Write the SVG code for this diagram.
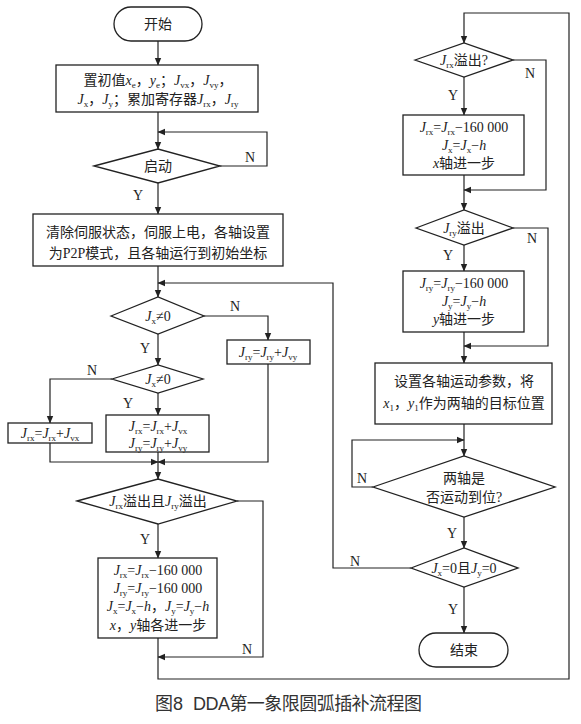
<svg xmlns="http://www.w3.org/2000/svg" width="581" height="724" viewBox="0 0 581 724">
<defs>
<marker id="ah" markerWidth="8" markerHeight="8" refX="7" refY="4" orient="auto" markerUnits="userSpaceOnUse">
<path d="M0,0.8 L7.5,4 L0,7.2 Z" fill="#222"/>
</marker>
<style>
.sh{fill:#fff;stroke:#222;stroke-width:1.3}
.cn{fill:none;stroke:#222;stroke-width:1.2}
.ar{fill:none;stroke:#222;stroke-width:1.2;marker-end:url(#ah)}
text{font-family:"Liberation Serif","Noto Sans CJK SC",serif;font-size:14px;fill:#222;text-anchor:middle}
.i{font-style:italic}
.s{font-size:9px;baseline-shift:-2.5px;font-style:normal}
.lb{font-size:14px}
.cap{font-family:"Liberation Sans","Noto Sans CJK SC",sans-serif;font-size:18px;fill:#333;text-anchor:start}
</style>
</defs>
<rect width="581" height="724" fill="#fff"/>

<g id="connectors">
<path class="ar" d="M158,41 V65"/>
<path class="ar" d="M158,112 V149"/>
<path class="ar" d="M220,166 H267 V132 H158"/>
<path class="ar" d="M158,183 V214"/>
<path class="ar" d="M158,266 V297"/>
<path class="ar" d="M411,568 H333 V283 H158"/>
<path class="ar" d="M204,316 H268 V340"/>
<path class="ar" d="M158,334 V365"/>
<path class="ar" d="M112,379 H50 V423"/>
<path class="ar" d="M158,393 V415"/>
<path class="ar" d="M50,443 V462 H158"/>
<path class="ar" d="M268,364 V462 H158"/>
<path class="ar" d="M158,452 V479"/>
<path class="ar" d="M237,501 H263 V657 H158"/>
<path class="ar" d="M158,524 V558"/>
<path class="ar" d="M158,638 V679 H569 V13 H464 V43"/>
<path class="ar" d="M513,60 H546 V190 H464"/>
<path class="ar" d="M464,77 V115"/>
<path class="ar" d="M464,175 V210"/>
<path class="ar" d="M513,228 H548 V346 H464"/>
<path class="ar" d="M464,245 V271"/>
<path class="ar" d="M464,332 V363"/>
<path class="ar" d="M464,424 V456"/>
<path class="ar" d="M373,487 H352 V440 H464"/>
<path class="ar" d="M464,517 V548"/>
<path class="ar" d="M464,587 V633"/>
<g class="lb">
<text x="250" y="162">N</text>
<text x="138" y="200">Y</text>
<text x="235" y="311">N</text>
<text x="145" y="353">Y</text>
<text x="92" y="375">N</text>
<text x="128" y="408">Y</text>
<text x="145" y="544">Y</text>
<text x="247" y="654">N</text>
<text x="530" y="78">N</text>
<text x="453" y="100">Y</text>
<text x="532" y="243">N</text>
<text x="448" y="260">Y</text>
<text x="362" y="483">N</text>
<text x="452" y="538">Y</text>
<text x="355" y="566">N</text>
<text x="453" y="614">Y</text>
</g>
</g>

<g id="start">
<rect class="sh" x="114" y="7" width="88" height="34" rx="17"/>
<text x="158" y="29">开始</text>
</g>

<g id="init">
<rect class="sh" x="56" y="65" width="202" height="47"/>
<text x="158" y="85">置初值<tspan class="i">x</tspan><tspan class="s">e</tspan>，<tspan class="i">y</tspan><tspan class="s">e</tspan>；<tspan class="i">J</tspan><tspan class="s">vx</tspan>，<tspan class="i">J</tspan><tspan class="s">vy</tspan>，</text>
<text x="158" y="104"><tspan class="i">J</tspan><tspan class="s">x</tspan>，<tspan class="i">J</tspan><tspan class="s">y</tspan>；累加寄存器<tspan class="i">J</tspan><tspan class="s">rx</tspan>，<tspan class="i">J</tspan><tspan class="s">ry</tspan></text>
</g>

<g id="qidong">
<polygon class="sh" points="94,166 158,149 220,166 158,183"/>
<text x="158" y="171">启动</text>
</g>

<g id="clear">
<rect class="sh" x="33" y="214" width="250" height="52"/>
<text x="158" y="237">清除伺服状态，伺服上电，各轴设置</text>
<text x="158" y="258">为P2P模式，且各轴运行到初始坐标</text>
</g>

<g id="jx1">
<polygon class="sh" points="111,316 158,297 204,316 158,334"/>
<text x="158" y="321"><tspan class="i">J</tspan><tspan class="s">x</tspan>≠0</text>
</g>

<g id="jry-add">
<rect class="sh" x="227" y="340" width="83" height="24"/>
<text x="268" y="357"><tspan class="i">J</tspan><tspan class="s">ry</tspan>=<tspan class="i">J</tspan><tspan class="s">ry</tspan>+<tspan class="i">J</tspan><tspan class="s">vy</tspan></text>
</g>

<g id="jx2">
<polygon class="sh" points="112,379 158,365 203,379 158,393"/>
<text x="158" y="384"><tspan class="i">J</tspan><tspan class="s">x</tspan>≠0</text>
</g>

<g id="jrx-add">
<rect class="sh" x="8" y="423" width="84" height="20"/>
<text x="50" y="438"><tspan class="i">J</tspan><tspan class="s">rx</tspan>=<tspan class="i">J</tspan><tspan class="s">rx</tspan>+<tspan class="i">J</tspan><tspan class="s">vx</tspan></text>
</g>

<g id="both-add">
<rect class="sh" x="106" y="415" width="103" height="37"/>
<text x="158" y="431"><tspan class="i">J</tspan><tspan class="s">rx</tspan>=<tspan class="i">J</tspan><tspan class="s">rx</tspan>+<tspan class="i">J</tspan><tspan class="s">vx</tspan></text>
<text x="158" y="448"><tspan class="i">J</tspan><tspan class="s">ry</tspan>=<tspan class="i">J</tspan><tspan class="s">ry</tspan>+<tspan class="i">J</tspan><tspan class="s">vy</tspan></text>
</g>

<g id="both-overflow">
<polygon class="sh" points="77,501 158,479 237,501 158,524"/>
<text x="158" y="506"><tspan class="i">J</tspan><tspan class="s">rx</tspan>溢出且<tspan class="i">J</tspan><tspan class="s">ry</tspan>溢出</text>
</g>

<g id="both-step">
<rect class="sh" x="98" y="558" width="119" height="80"/>
<text x="158" y="575"><tspan class="i">J</tspan><tspan class="s">rx</tspan>=<tspan class="i">J</tspan><tspan class="s">rx</tspan>−160 000</text>
<text x="158" y="593"><tspan class="i">J</tspan><tspan class="s">ry</tspan>=<tspan class="i">J</tspan><tspan class="s">ry</tspan>−160 000</text>
<text x="158" y="611"><tspan class="i">J</tspan><tspan class="s">x</tspan>=<tspan class="i">J</tspan><tspan class="s">x</tspan>−<tspan class="i">h</tspan>，<tspan class="i">J</tspan><tspan class="s">y</tspan>=<tspan class="i">J</tspan><tspan class="s">y</tspan>−<tspan class="i">h</tspan></text>
<text x="158" y="630"><tspan class="i">x</tspan>，<tspan class="i">y</tspan>轴各进一步</text>
</g>

<g id="jrx-overflow">
<polygon class="sh" points="415,60 464,43 513,60 464,77"/>
<text x="464" y="65"><tspan class="i">J</tspan><tspan class="s">rx</tspan>溢出?</text>
</g>

<g id="x-step">
<rect class="sh" x="403" y="115" width="121" height="60"/>
<text x="464" y="132"><tspan class="i">J</tspan><tspan class="s">rx</tspan>=<tspan class="i">J</tspan><tspan class="s">rx</tspan>−160 000</text>
<text x="464" y="150"><tspan class="i">J</tspan><tspan class="s">x</tspan>=<tspan class="i">J</tspan><tspan class="s">x</tspan>−<tspan class="i">h</tspan></text>
<text x="464" y="168"><tspan class="i">x</tspan>轴进一步</text>
</g>

<g id="jry-overflow">
<polygon class="sh" points="416,228 464,210 513,228 464,245"/>
<text x="464" y="233"><tspan class="i">J</tspan><tspan class="s">ry</tspan>溢出</text>
</g>

<g id="y-step">
<rect class="sh" x="403" y="271" width="121" height="61"/>
<text x="464" y="288"><tspan class="i">J</tspan><tspan class="s">ry</tspan>=<tspan class="i">J</tspan><tspan class="s">ry</tspan>−160 000</text>
<text x="464" y="306"><tspan class="i">J</tspan><tspan class="s">y</tspan>=<tspan class="i">J</tspan><tspan class="s">y</tspan>−<tspan class="i">h</tspan></text>
<text x="464" y="324"><tspan class="i">y</tspan>轴进一步</text>
</g>

<g id="set-params">
<rect class="sh" x="375" y="363" width="177" height="61"/>
<text x="464" y="386">设置各轴运动参数，将</text>
<text x="464" y="408"><tspan class="i">x</tspan><tspan class="s">1</tspan>，<tspan class="i">y</tspan><tspan class="s">1</tspan>作为两轴的目标位置</text>
</g>

<g id="in-place">
<polygon class="sh" points="373,487 464,456 555,487 464,517"/>
<text x="464" y="483">两轴是</text>
<text x="464" y="502">否运动到位?</text>
</g>

<g id="done-check">
<polygon class="sh" points="411,568 464,548 518,568 464,587"/>
<text x="464" y="573"><tspan class="i">J</tspan><tspan class="s">x</tspan>=0且<tspan class="i">J</tspan><tspan class="s">y</tspan>=0</text>
</g>

<g id="end">
<rect class="sh" x="419" y="633" width="89" height="34" rx="17"/>
<text x="464" y="655">结束</text>
</g>

<text class="cap" x="155" y="710">图8</text>
<text class="cap" x="193" y="710" textLength="229" lengthAdjust="spacing">DDA第一象限圆弧插补流程图</text>
</svg>
